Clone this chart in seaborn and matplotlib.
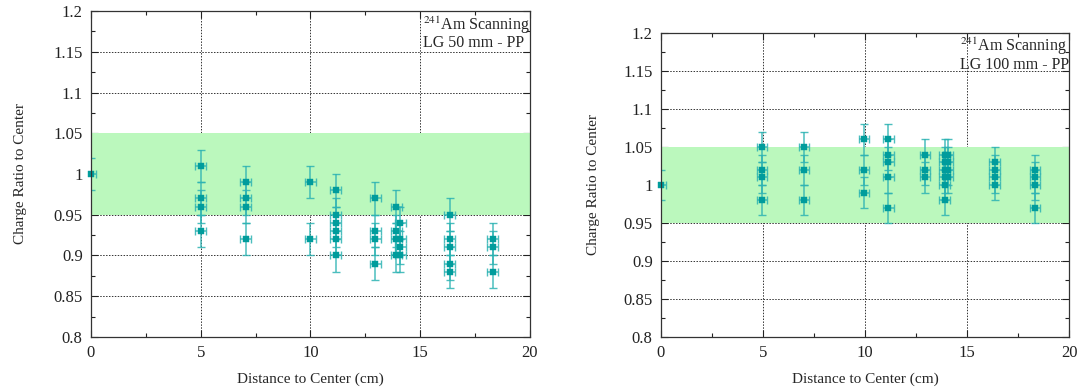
import matplotlib
matplotlib.use("Agg")
import matplotlib.pyplot as plt
import seaborn as sns
import pandas as pd
from matplotlib.ticker import MultipleLocator

# --- data (distance in cm, charge ratio to center) ---
left_dist = [0.0,
             5.0, 5.0, 5.0, 5.0,
             7.05, 7.05, 7.05, 7.05,
             10.0, 10.0,
             11.15, 11.15, 11.15, 11.15, 11.15, 11.15,
             12.95, 12.95, 12.95, 12.95,
             13.9, 13.9, 13.9, 13.9,
             14.1, 14.1, 14.1, 14.1,
             16.35, 16.35, 16.35, 16.35, 16.35,
             18.3, 18.3, 18.3]
left_ratio = [1.00,
              1.01, 0.97, 0.96, 0.93,
              0.99, 0.97, 0.96, 0.92,
              0.99, 0.92,
              0.98, 0.95, 0.94, 0.93, 0.92, 0.90,
              0.97, 0.93, 0.92, 0.89,
              0.96, 0.93, 0.92, 0.90,
              0.94, 0.92, 0.91, 0.90,
              0.95, 0.92, 0.91, 0.89, 0.88,
              0.92, 0.91, 0.88]

right_dist = [0.0,
              4.95, 4.95, 4.95, 4.95,
              7.0, 7.0, 7.0,
              9.95, 9.95, 9.95,
              11.15, 11.15, 11.15, 11.15, 11.15,
              12.95, 12.95, 12.95,
              13.9, 13.9, 13.9, 13.9, 13.9, 13.9,
              14.05, 14.05, 14.05, 14.05,
              16.35, 16.35, 16.35, 16.35,
              18.35, 18.35, 18.35, 18.35]
right_ratio = [1.00,
               1.05, 1.02, 1.01, 0.98,
               1.05, 1.02, 0.98,
               1.06, 1.02, 0.99,
               1.06, 1.04, 1.03, 1.01, 0.97,
               1.04, 1.02, 1.01,
               1.04, 1.03, 1.02, 1.01, 1.00, 0.98,
               1.04, 1.03, 1.02, 1.01,
               1.03, 1.02, 1.01, 1.00,
               1.02, 1.01, 1.00, 0.97]

x_err = 0.25
y_err = 0.02
band = (0.95, 1.05)
labels = ["LG 50 mm - PP", "LG 100 mm - PP"]

sns.set_style("ticks")
plt.rcParams['font.family'] = ['Liberation Serif', 'DejaVu Serif']
plt.rcParams['mathtext.fontset'] = 'stix'

fig = plt.figure(figsize=(10.82, 3.89), dpi=100)
ax_l = fig.add_axes([0.0841, 0.1337, 0.4057, 0.838])
ax_r = fig.add_axes([0.6109, 0.1337, 0.3771, 0.7815])

point_col = '#009c9c'
bar_col = '#2db3b3'

for ax, xs, ys, lab, lpad in [(ax_l, left_dist, left_ratio, labels[0], 19),
                              (ax_r, right_dist, right_ratio, labels[1], 17)]:
    df = pd.DataFrame({'dist': xs, 'ratio': ys})
    ax.axhspan(band[0], band[1], color='#bbf8bd', zorder=1, lw=0)
    ax.errorbar(df['dist'], df['ratio'], xerr=x_err, yerr=y_err, fmt='none',
                ecolor=bar_col, elinewidth=1.1, capsize=3, capthick=1.0,
                alpha=0.85, zorder=2)
    sns.scatterplot(data=df, x='dist', y='ratio', marker='s', s=13,
                    color=point_col, edgecolor=point_col, linewidth=0.3,
                    zorder=3, ax=ax, clip_on=False)

    ax.set_xlim(0, 20)
    ax.set_ylim(0.8, 1.2)
    ax.xaxis.set_major_locator(MultipleLocator(5))
    ax.xaxis.set_minor_locator(MultipleLocator(2.5))
    ax.yaxis.set_minor_locator(MultipleLocator(0.025))
    ax.set_yticks([0.8, 0.85, 0.9, 0.95, 1.0, 1.05, 1.1, 1.15, 1.2])
    ax.set_yticklabels(['0.8', '0.85', '0.9', '0.95', '1', '1.05', '1.1', '1.15', '1.2'])
    ax.set_axisbelow(True)
    ax.grid(True, which='major', color='#333333', linestyle=(0, (1.5, 1.5)),
            linewidth=0.7)
    ax.tick_params(which='both', direction='in', top=True, right=True,
                   labelsize=12, width=0.8, colors='#222222')
    ax.tick_params(which='major', length=5, pad=6)
    ax.tick_params(which='minor', length=3)
    for sp in ax.spines.values():
        sp.set_visible(True)
        sp.set_linewidth(0.9)
        sp.set_color('#333333')
        sp.set_zorder(4)

    ax.set_xlabel('Distance to Center (cm)', fontsize=11, labelpad=8)
    ax.set_ylabel('Charge Ratio to Center', fontsize=11, labelpad=lpad)

    ax.text(1.0, 0.99, '$^{241}$Am Scanning\n' + lab, transform=ax.transAxes,
            ha='right', va='top', multialignment='left', fontsize=11.5,
            linespacing=0.95, zorder=5)

fig.savefig('out.png', dpi=100)
